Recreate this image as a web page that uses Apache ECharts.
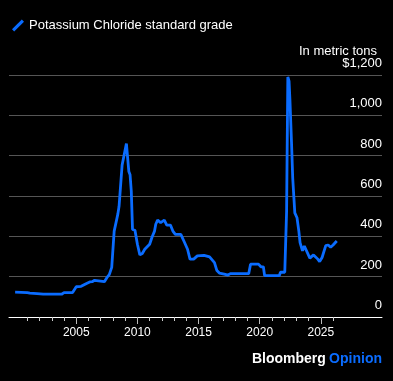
<!DOCTYPE html>
<html>
<head>
<meta charset="utf-8">
<script src="https://cdn.jsdelivr.net/npm/echarts@6/dist/echarts.min.js"></script>
<style>
html,body{margin:0;padding:0;background:#000;}
#chart{width:393px;height:381px;}
</style>
</head>
<body>
<div id="chart"></div>
<script>
// Data (fractional years, USD per metric ton)
const years = [2000.0, 2001.0, 2001.2, 2001.8, 2002.3, 2003.8, 2004.0, 2004.7, 2005.0, 2005.4, 2005.8, 2006.1, 2006.3, 2006.5, 2006.6, 2007.3, 2007.5, 2007.7, 2007.9, 2008.1, 2008.4, 2008.5, 2008.75, 2008.9, 2009.1, 2009.2, 2009.3, 2009.4, 2009.5, 2009.6, 2009.8, 2010.0, 2010.2, 2010.4, 2010.6, 2010.75, 2011.0, 2011.2, 2011.4, 2011.5, 2011.65, 2011.9, 2012.2, 2012.4, 2012.5, 2012.7, 2012.9, 2013.1, 2013.3, 2013.55, 2013.8, 2014.1, 2014.3, 2014.6, 2014.9, 2015.45, 2015.9, 2016.3, 2016.5, 2016.7, 2017.1, 2017.4, 2017.6, 2019.1, 2019.25, 2019.9, 2020.1, 2020.3, 2020.4, 2021.6, 2021.7, 2022.05, 2022.2, 2022.3, 2022.4, 2022.47, 2022.6, 2022.7, 2022.87, 2023.05, 2023.2, 2023.3, 2023.5, 2023.65, 2023.8, 2024.1, 2024.4, 2024.55, 2024.75, 2024.9, 2025.1, 2025.4, 2025.6, 2025.8, 2026.0, 2026.3];
const prices = [123, 121, 118, 116, 113, 113, 121, 121, 150, 152, 165, 174, 175, 182, 175, 175, 195, 210, 246, 426, 510, 549, 754, 762, 860, 860, 721, 705, 623, 434, 430, 361, 308, 315, 336, 341, 361, 397, 426, 460, 480, 468, 480, 456, 458, 456, 426, 410, 410, 410, 377, 336, 287, 287, 303, 306, 298, 270, 230, 218, 213, 208, 215, 215, 262, 262, 249, 249, 205, 205, 222, 222, 525, 1190, 1170, 1080, 868, 688, 516, 492, 426, 369, 328, 352, 344, 292, 308, 311, 287, 275, 295, 354, 357, 346, 357, 377];
const yearTicks = [2001, 2002, 2003, 2004, 2005, 2006, 2007, 2008, 2009, 2010, 2011, 2012, 2013, 2014, 2015, 2016, 2017, 2018, 2019, 2020, 2021, 2022, 2023, 2024, 2025, 2026];
const labelYears = [2005, 2010, 2015, 2020, 2025];
const seriesName = 'Potassium Chloride standard grade';
const unitLabel = 'In metric tons';

const chart = echarts.init(document.getElementById('chart'), null, {renderer: 'canvas'});
const blue = '#0a6cff';
const font = 'Liberation Sans, Arial, sans-serif';

const option = {
  backgroundColor: '#000',
  animation: false,
  textStyle: {fontFamily: font},
  grid: {left: 9, right: 11, top: 75, bottom: 64, containLabel: false},
  legend: {
    left: 7, top: 14,
    itemWidth: 12, itemHeight: 12, itemGap: 6,
    icon: 'path://M0,10 L9,1 L11,3 L2,12 Z',
    textStyle: {color: '#fff', fontSize: 13, fontFamily: font},
    data: [seriesName]
  },
  title: {
    text: unitLabel,
    right: 11, top: 40,
    textStyle: {color: '#fff', fontSize: 13, fontWeight: 'normal', fontFamily: font}
  },
  graphic: [{
    type: 'text',
    right: 11, top: 352,
    style: {
      text: '{a|Bloomberg} {b|Opinion}',
      rich: {
        a: {fill: '#fff', fontSize: 14, fontWeight: 'bold', fontFamily: font},
        b: {fill: blue, fontSize: 14, fontWeight: 'bold', fontFamily: font}
      }
    }
  }],
  xAxis: [{
    type: 'value', min: 1999.5, max: 2030,
    axisLine: {show: true, lineStyle: {color: '#fff', width: 1}},
    axisTick: {show: true, length: 4, customValues: yearTicks, lineStyle: {color: '#ccc'}},
    axisLabel: {show: true, customValues: labelYears, color: '#fff', fontSize: 12, margin: 10, fontFamily: font,
      formatter: v => String(v)},
    splitLine: {show: false}
  }, {
    type: 'value', min: 1999.5, max: 2030, position: 'bottom',
    axisLine: {show: false},
    axisTick: {show: true, length: 7, customValues: labelYears, lineStyle: {color: '#bbb'}},
    axisLabel: {show: false},
    splitLine: {show: false}
  }],
  yAxis: {
    type: 'value', position: 'right', min: 0, max: 1200, interval: 200,
    axisLine: {show: false},
    axisTick: {show: false},
    splitLine: {show: true, lineStyle: {color: '#555', width: 1.2}},
    axisLabel: {
      inside: true, margin: 0, color: '#fff', fontSize: 13, fontFamily: font,
      verticalAlign: 'bottom', padding: [0, 0, 5, 0],
      formatter: v => v === 1200 ? '$1,200' : v.toLocaleString('en-US')
    }
  },
  series: [{
    name: seriesName,
    type: 'line',
    xAxisIndex: 0,
    data: years.map((y, i) => [y, prices[i]]),
    showSymbol: false,
    lineStyle: {color: blue, width: 2.8},
    itemStyle: {color: blue}
  }]
};
chart.setOption(option);
</script>
</body>
</html>
